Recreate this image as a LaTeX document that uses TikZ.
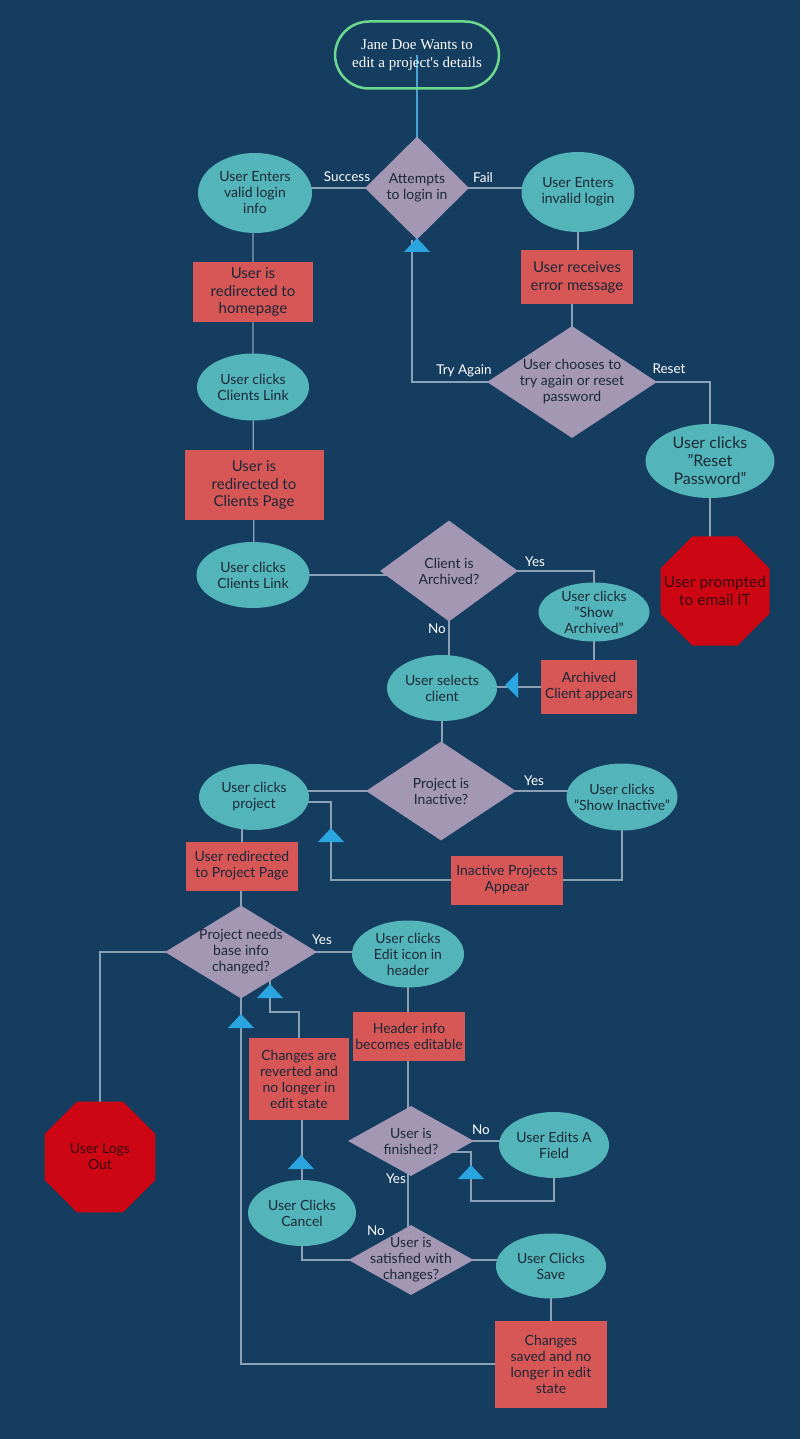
\documentclass[tikz,border=0pt]{standalone}
\usepackage{fontspec}
\setmainfont{Lato}
\newfontfamily\titlefont{Liberation Serif}
\usetikzlibrary{shapes.geometric,backgrounds,calc}
\definecolor{bgc}{HTML}{143D60}
\definecolor{tealc}{HTML}{53B5BA}
\definecolor{redc}{HTML}{D75656}
\definecolor{diac}{HTML}{A497B4}
\definecolor{octc}{HTML}{CC0613}
\definecolor{linec}{HTML}{8BA1B5}
\definecolor{triac}{HTML}{2AA5E0}
\definecolor{greenc}{HTML}{6CD98E}
\definecolor{txtc}{HTML}{1B2838}
\definecolor{octtxt}{HTML}{3A0810}
\tikzset{
  x=1pt, y=-1pt,
  txt/.style={text=txtc, align=center, font=\fontsize{14}{16}\selectfont, inner sep=0pt},
  ell/.style={ellipse, fill=tealc, inner sep=0pt},
  boxr/.style={rectangle, fill=redc, inner sep=0pt},
  dia/.style={diamond, fill=diac, inner sep=0pt},
  octo/.style={regular polygon, regular polygon sides=8, fill=octc, inner sep=0pt, minimum size=118pt},
  conn/.style={draw=linec, line width=1.3pt},
  lab/.style={text=white, font=\fontsize{13.5}{15}\selectfont, inner sep=0pt},
  tri/.style={fill=triac},
}
\newcommand{\triup}[1]{\fill[tri] #1 -- ++(-13,14) -- ++(26,0) -- cycle;}
\newcommand{\qq}{\symbol{34}}
\begin{document}
\begin{tikzpicture}
\useasboundingbox (0,0) rectangle (800,1439);
% nodes
\node[rectangle, rounded corners=34pt, draw=greenc, line width=2.5pt, minimum width=164pt, minimum height=67pt, text=white, align=center, font=\titlefont\fontsize{15}{18}\selectfont] (t) at (417,55) {Jane Doe Wants to\\edit a project's details};
\node[dia, minimum width=104pt, minimum height=103pt, label={[txt]center:Attempts\\to login in}] (d1) at (417,188) {};
\node[ell, minimum width=114pt, minimum height=80pt, label={[txt]center:User Enters\\valid login\\info}] (e1) at (255,193) {};
\node[ell, minimum width=113pt, minimum height=80pt, label={[txt]center:User Enters\\invalid login}] (e2) at (578,192) {};
\node[boxr, minimum width=120pt, minimum height=60pt, label={[txt,font=\fontsize{15}{17.5}\selectfont]center:User is\\redirected to\\homepage}] (r1) at (253,292) {};
\node[boxr, minimum width=112pt, minimum height=54pt, label={[txt,font=\fontsize{15}{18}\selectfont]center:User receives\\error message}] (r4) at (577,277) {};
\node[dia, minimum width=170pt, minimum height=112pt, label={[txt]center:User chooses to\\try again or reset\\password}] (d3) at (572,382) {};
\node[ell, minimum width=112pt, minimum height=67pt, label={[txt]center:User clicks\\Clients Link}] (e3) at (253,387) {};
\node[boxr, minimum width=139pt, minimum height=70pt, label={[txt,font=\fontsize{15}{17.5}\selectfont]center:User is\\redirected to\\Clients Page}] (r2) at (254,485) {};
\node[ell, minimum width=129pt, minimum height=74pt, label={[txt,font=\fontsize{16}{18}\selectfont]center:User clicks\\\qq Reset\\Password\qq}] (e7) at (710,461) {};
\node[octo, label={[txt,text=octtxt,font=\fontsize{15.5}{18}\selectfont]center:User prompted\\to email IT}] (o1) at (715,591) {};
\node[ell, minimum width=113pt, minimum height=66pt, label={[txt]center:User clicks\\Clients Link}] (e4) at (253,575) {};
\node[dia, minimum width=138pt, minimum height=101pt, label={[txt]center:Client is\\Archived?}] (d2) at (449,571) {};
\node[ell, minimum width=111pt, minimum height=59pt, label={[txt]center:User clicks\\\qq Show\\Archived\qq}] (e5) at (594,612) {};
\node[boxr, minimum width=96pt, minimum height=54pt, label={[txt]center:Archived\\Client appears}] (r3) at (589,687) {};
\node[ell, minimum width=110pt, minimum height=66pt, label={[txt]center:User selects\\client}] (e6) at (442,688) {};
\node[dia, minimum width=150pt, minimum height=99pt, label={[txt]center:Project is\\Inactive?}] (d4) at (441,791) {};
\node[ell, minimum width=110pt, minimum height=66pt, label={[txt]center:User clicks\\project}] (e8) at (254,797) {};
\node[ell, minimum width=111pt, minimum height=67pt, label={[txt]center:User clicks\\\qq Show Inactive\qq}] (e9) at (622,797) {};
\node[boxr, minimum width=112pt, minimum height=49pt, label={[txt]center:User redirected\\to Project Page}] (r6) at (242,866) {};
\node[boxr, minimum width=112pt, minimum height=49pt, label={[txt]center:Inactive Projects\\Appear}] (r5) at (507,880) {};
\node[dia, minimum width=152pt, minimum height=93pt, label={[txt]center:Project needs\\base info\\changed?}] (d5) at (241,952) {};
\node[ell, minimum width=112pt, minimum height=67pt, label={[txt]center:User clicks\\Edit icon in\\header}] (e10) at (408,954) {};
\node[boxr, minimum width=112pt, minimum height=49pt, label={[txt]center:Header info\\becomes editable}] (r7) at (409,1036) {};
\node[boxr, minimum width=100pt, minimum height=82pt, label={[txt]center:Changes are\\reverted and\\no longer in\\edit state}] (r9) at (299,1079) {};
\node[octo, minimum size=120pt, label={[txt,text=octtxt]center:User Logs\\Out}] (o2) at (100,1157) {};
\node[dia, minimum width=126pt, minimum height=70pt, label={[txt]center:User is\\finished?}] (d6) at (411,1141) {};
\node[ell, minimum width=110pt, minimum height=66pt, label={[txt]center:User Edits A\\Field}] (e11) at (554,1145) {};
\node[ell, minimum width=108pt, minimum height=66pt, label={[txt]center:User Clicks\\Cancel}] (e13) at (302,1213) {};
\node[dia, minimum width=125pt, minimum height=70pt, label={[txt]center:User is\\satisfied with\\changes?}] (d7) at (411,1260) {};
\node[ell, minimum width=110pt, minimum height=65pt, label={[txt]center:User Clicks\\Save}] (e12) at (551,1266) {};
\node[boxr, minimum width=112pt, minimum height=87pt, label={[txt]center:Changes\\saved and no\\longer in edit\\state}] (r8) at (551,1364) {};
% edge labels
\node[lab] (l1) at (347,177) {Success};
\node[lab] (l2) at (483,178) {Fail};
\node[lab] (l3) at (464,371) {Try Again};
\node[lab] (l4) at (669,369) {Reset};
\node[lab] (l5) at (535,562) {Yes};
\node[lab] (l6) at (437,629) {No};
\node[lab] (l7) at (534,781) {Yes};
\node[lab] (l8) at (322,940) {Yes};
\node[lab] (l9) at (481,1130) {No};
\node[lab] (l10) at (396,1179) {Yes};
\node[lab] (l11) at (376,1231) {No};
% helper coordinates
\coordinate (tryup) at (412,240);
\coordinate (ret8) at (331,802);
\coordinate (lp1) at (471,1201);
\coordinate (lp2) at (471,1152);
\coordinate (lp3) at (440,1152);
\coordinate (rv1) at (299,1012);
\coordinate (rv2) at (270,975);
% connectors behind
\begin{pgfonlayer}{background}
\fill[bgc] (0,0) rectangle (800,1439);
\draw[draw=triac!70!linec, line width=1.5pt] (t.center) -- (d1.center);
\draw[conn] (d1.center) -- (d1.center -| e1.center);
\draw[conn] (d1.center) -- (d1.center -| e2.center);
\draw[conn] (r1.center |- e1.center) -- (r1.center) -- (e3.center) -- (r2.center |- e4.center);
\draw[conn] (e2.center) -- (e2.center |- r4.center);
\draw[conn] (r4.center -| d3.center) -- (d3.center);
\draw[conn] (d3.center) -| (tryup);
\draw[conn] (d3.center) -| (e7.center);
\draw[conn] (e7.center) -- (e7.center |- o1.center);
\draw[conn] (e4.center) -- (e4.center -| d2.center);
\draw[conn] (d2.center) -| (e5.center);
\draw[conn] (e5.center) -- (e5.center |- r3.center);
\draw[conn] (r3.center) -- (r3.center -| e6.center);
\draw[conn] (d2.center) -- (d2.center |- e6.center);
\draw[conn] (e6.center) -- (e6.center |- d4.center);
\draw[conn] (d4.center) -- (d4.center -| e8.center);
\draw[conn] (d4.center) -- (d4.center -| e9.center);
\draw[conn] (e9.center) |- (r5.center);
\draw[conn] (r5.center) -| (ret8) -- (ret8 -| e8.center);
\draw[conn] (r6.center |- e8.center) -- (r6.center) -- (r6.center -| d5.center) -- (d5.center);
\draw[conn] (d5.center) -- (d5.center -| e10.center);
\draw[conn] (d5.center) -| (o2.center);
\draw[conn] (e10.center) -- (e10.center |- d7.center);
\draw[conn] (d6.center) -- (d6.center -| e11.center);
\draw[conn] (e11.center) -- (e11.center |- lp1) -- (lp1) -- (lp2) -- (lp3);
\draw[conn] (d7.center) -- (d7.center -| e12.center);
\draw[conn] (e12.center) -- (e12.center |- r8.center);
\draw[conn] (r8.center) -| (d5.center);
\draw[conn] (d7.center) -| (e13.center);
\draw[conn] (e13.center) -- (e13.center |- r9.center);
\draw[conn] (r9.center) -- (rv1) -| (rv2);
\end{pgfonlayer}
% arrow triangles
\triup{(417,238)}
\fill[tri] (505,685) -- (518,672) -- (518,698) -- cycle;
\triup{(331,828)}
\triup{(270,984)}
\triup{(241,1014)}
\triup{(301,1155)}
\triup{(471,1165)}
\end{tikzpicture}
\end{document}
